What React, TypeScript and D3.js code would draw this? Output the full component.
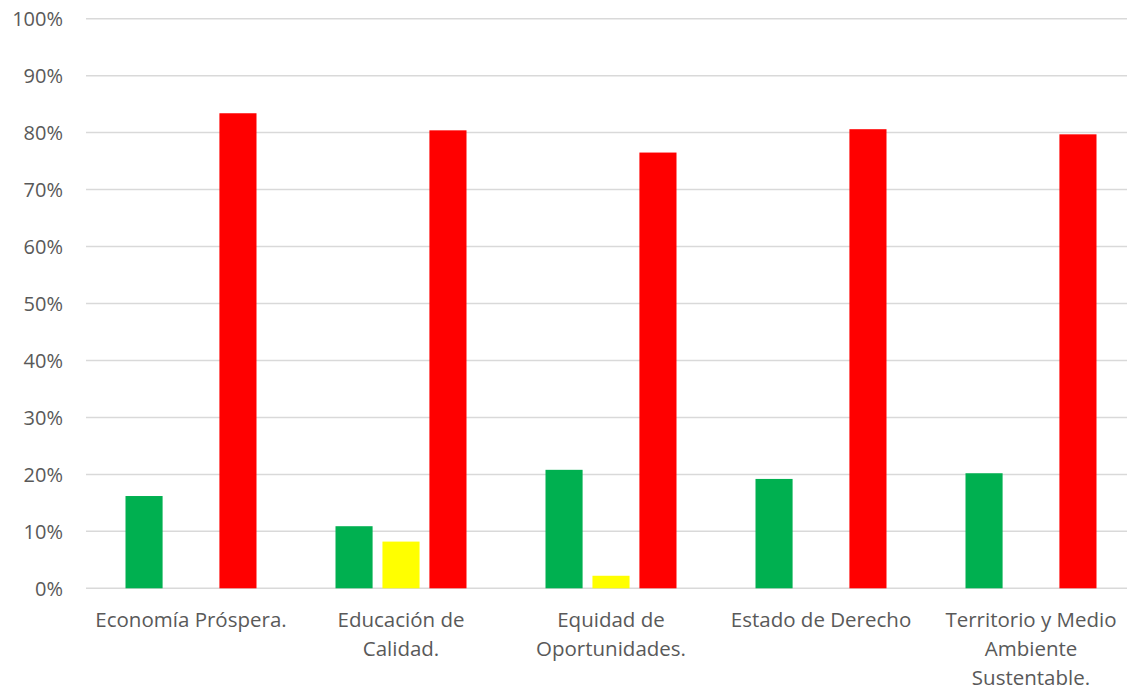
import React from 'react';
import * as d3 from 'd3';

// Categories (pre-wrapped as Excel shows them)
const categories = [
  'Economía Próspera.',
  'Educación de Calidad.',
  'Equidad de Oportunidades.',
  'Estado de Derecho',
  'Territorio y Medio Ambiente Sustentable.',
];
const categoryLines: string[][] = [
  ['Economía Próspera.'],
  ['Educación de', 'Calidad.'],
  ['Equidad de', 'Oportunidades.'],
  ['Estado de Derecho'],
  ['Territorio y Medio', 'Ambiente', 'Sustentable.'],
];

const seriesKeys = ['verde', 'amarillo', 'rojo'];
const seriesColors = ['#00b050', '#ffff00', '#ff0000'];

const verde = [0.162, 0.109, 0.208, 0.192, 0.202];
const amarillo = [0, 0.082, 0.022, 0, 0];
const rojo = [0.834, 0.804, 0.765, 0.806, 0.797];

const yTicks = d3.range(0, 1.0001, 0.1);

const WIDTH = 1127;
const HEIGHT = 690;

const App: React.FC = () => {
  const margin = { top: 18.7, left: 86, bottom: 101.7 };
  const plotBottom = HEIGHT - margin.bottom;
  // plot area runs past the right edge of the picture
  const plotRight = margin.left + 5 * 210;

  const x = d3.scaleBand<string>().domain(categories).range([margin.left, plotRight]);
  const inner = d3.scaleBand<string>()
    .domain(seriesKeys)
    .range([39.5, 210 - 39.5])
    .paddingInner(0.21)
    .paddingOuter(0);
  const y = d3.scaleLinear().domain([0, 1]).range([plotBottom, margin.top]);

  const values = [verde, amarillo, rojo];
  const font = '"Open Sans", sans-serif';

  return (
    <svg width={WIDTH} height={HEIGHT} style={{ display: 'block', position: 'absolute', left: 0, top: 0, background: '#fff' }}>
      {/* gridlines */}
      {yTicks.map((t) => (
        <g key={t}>
          <line x1={margin.left} x2={WIDTH} y1={y(t)} y2={y(t)} stroke="#d9d9d9" strokeWidth={1.5} />
          <text x={63} y={y(t)} dy="0.36em" textAnchor="end" fontFamily={font} fontSize={20} fill="#595959">
            {d3.format('.0%')(t)}
          </text>
        </g>
      ))}

      {/* bars */}
      {categories.map((c, i) => (
        <g key={c} transform={`translate(${x(c)},0)`}>
          {seriesKeys.map((s, j) => {
            const v = values[j][i];
            if (!v) return null;
            return (
              <rect
                key={s}
                x={inner(s)}
                y={y(v)}
                width={inner.bandwidth()}
                height={plotBottom - y(v)}
                fill={seriesColors[j]}
              />
            );
          })}
        </g>
      ))}

      {/* category labels */}
      {categories.map((c, i) => (
        <text
          key={c}
          x={(x(c) as number) + x.bandwidth() / 2}
          y={626.5}
          textAnchor="middle"
          fontFamily={font}
          fontSize={20.5}
          fill="#595959"
        >
          {categoryLines[i].map((ln, k) => (
            <tspan key={k} x={(x(c) as number) + x.bandwidth() / 2} dy={k === 0 ? 0 : 29.2}>
              {ln}
            </tspan>
          ))}
        </text>
      ))}
    </svg>
  );
};

export default App;
